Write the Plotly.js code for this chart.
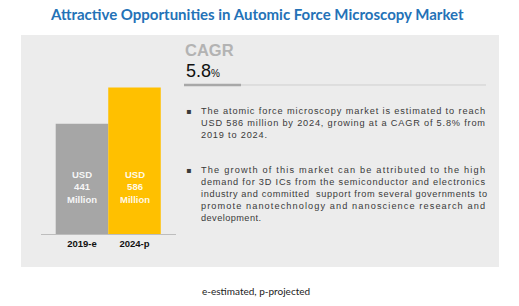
<!DOCTYPE html>
<html>
<head>
<meta charset="utf-8">
<script src="https://cdn.plot.ly/plotly-3.0.1.min.js"></script>
<style>html,body{margin:0;padding:0;background:#fff;}#chart{width:519px;height:306px;}</style>
</head>
<body>
<div id="chart"></div>
<script>
// ---- data ----
const categories = ["2019-e", "2024-p"];
const values = [441, 586];
const barColors = ["#a6a6a6", "#ffc000"];
const barLabels = ["USD<br>441<br>Million", "USD<br>586<br>Million"];
const titleText = "Attractive Opportunities in Automic Force Microscopy Market";
const cagrLabel = "CAGR";
const cagrValue = "5.8";
const bullet1 = [
  "The atomic force microscopy market is estimated to reach",
  "USD 586 million by 2024, growing at a CAGR of 5.8% from",
  "2019 to 2024."
];
const bullet2 = [
  "The growth of this market can be attributed to the high",
  "demand for 3D ICs from the semiconductor and electronics",
  "industry and committed  support from several governments to",
  "promote nanotechnology and nanoscience research and",
  "development."
];
const footnote = "e-estimated, p-projected";

// ---- layout helpers ----
const W = 519, H = 306;
const px = x => x / W;
const py = y => 1 - y / H;

const annotations = [];
annotations.push({
  xref: "paper", yref: "paper", x: px(257), y: py(14), xanchor: "center", yanchor: "middle",
  text: "<b>" + titleText + "</b>", showarrow: false,
  font: {family: "Lato, 'Open Sans', sans-serif", size: 15, color: "#2472b7"}
});
// bar labels
categories.forEach((c, i) => {
  annotations.push({
    xref: "x", yref: "y", x: c, y: 188, xanchor: "center", yanchor: "middle",
    text: "<b>" + barLabels[i] + "</b>", showarrow: false, align: "center",
    font: {family: "'Liberation Sans', Arial, sans-serif", size: 9.5, color: "rgba(255,255,255,0.92)"}
  });
});
annotations.push({
  xref: "paper", yref: "paper", x: px(183), y: py(50), xanchor: "left", yanchor: "middle",
  text: "<b>" + cagrLabel + "</b>", showarrow: false,
  font: {family: "'Liberation Sans', Arial, sans-serif", size: 16.5, color: "#b3b3b3"}
});
annotations.push({
  xref: "paper", yref: "paper", x: px(184), y: py(71), xanchor: "left", yanchor: "middle",
  text: cagrValue + "<span style='font-size:10px'>%</span>", showarrow: false,
  font: {family: "'Liberation Sans', Arial, sans-serif", size: 18, color: "#111111"}
});
const bodyFont = {family: "'Liberation Sans', Arial, sans-serif", size: 9.2, color: "#3a3a3a"};
const lines1Y = [111, 123, 135];
const lines2Y = [170, 182, 194, 206, 218];
const justifyTargets = [284, 284, 66, 284, 284, 286, 284, 60];
const bodyStart = annotations.length;
bullet1.forEach((t, i) => annotations.push({
  xref: "paper", yref: "paper", x: px(199), y: py(lines1Y[i]), xanchor: "left", yanchor: "middle",
  text: t, showarrow: false, font: bodyFont
}));
bullet2.forEach((t, i) => annotations.push({
  xref: "paper", yref: "paper", x: px(199), y: py(lines2Y[i]), xanchor: "left", yanchor: "middle",
  text: t, showarrow: false, font: bodyFont
}));
[111, 170].forEach(y => annotations.push({
  xref: "paper", yref: "paper", x: px(188), y: py(y), xanchor: "center", yanchor: "middle",
  text: "▪", showarrow: false, font: {family: "'DejaVu Sans', sans-serif", size: 8, color: "#3a3a3a"}
}));
annotations.push({
  xref: "paper", yref: "paper", x: px(256), y: py(291), xanchor: "center", yanchor: "middle",
  text: footnote, showarrow: false,
  font: {family: "Lato, 'Open Sans', sans-serif", size: 10, color: "#222222"}
});

const shapes = [
  {type: "rect", xref: "paper", yref: "paper", x0: px(21), x1: px(499), y0: py(267), y1: py(35),
   fillcolor: "#ececec", line: {width: 0}, layer: "below"},
  {type: "line", xref: "paper", yref: "paper", x0: px(241), x1: px(486), y0: py(85), y1: py(85),
   line: {color: "#cfcfcf", width: 1}},
  {type: "line", xref: "paper", yref: "paper", x0: px(184), x1: px(241), y0: py(85), y1: py(85),
   line: {color: "#a8a8a8", width: 2.5}}
];

const trace = {
  type: "bar", x: categories, y: values,
  marker: {color: barColors, line: {width: 0}},
  width: 1.0, hoverinfo: "none"
};

const layout = {
  width: W, height: H,
  margin: {l: 0, r: 0, t: 0, b: 0},
  paper_bgcolor: "#ffffff", plot_bgcolor: "rgba(0,0,0,0)",
  showlegend: false,
  xaxis: {
    domain: [px(41), px(176)], range: [-0.78, 1.79], type: "category",
    showgrid: false, zeroline: false, showline: false, ticks: "",
    tickfont: {family: "'Liberation Sans', Arial, sans-serif", size: 9.5, color: "#111", weight: "bold"},
    ticklabelstandoff: 2
  },
  yaxis: {
    domain: [py(234), py(50)], range: [0, 736],
    showgrid: false, zeroline: true, zerolinecolor: "#bdbdbd", zerolinewidth: 1,
    showticklabels: false, showline: false, ticks: ""
  },
  annotations: annotations,
  shapes: shapes
};

Plotly.newPlot("chart", [trace], layout, {staticPlot: true, displayModeBar: false}).then(gd => {
  // justify the paragraph lines like the reference
  const groups = gd.querySelectorAll(".annotation");
  justifyTargets.forEach((w, k) => {
    const g = groups[bodyStart + k];
    if (!g) return;
    const t = g.querySelector("text.annotation-text");
    if (!t) return;
    const bb = t.getBBox();
    t.setAttribute("text-anchor", "start");
    t.setAttribute("x", bb.x);
    t.querySelectorAll("tspan").forEach(s => { if (s.hasAttribute("x")) s.setAttribute("x", bb.x); });
    t.setAttribute("textLength", w);
    t.setAttribute("lengthAdjust", "spacing");
  });
});
</script>
</body>
</html>
